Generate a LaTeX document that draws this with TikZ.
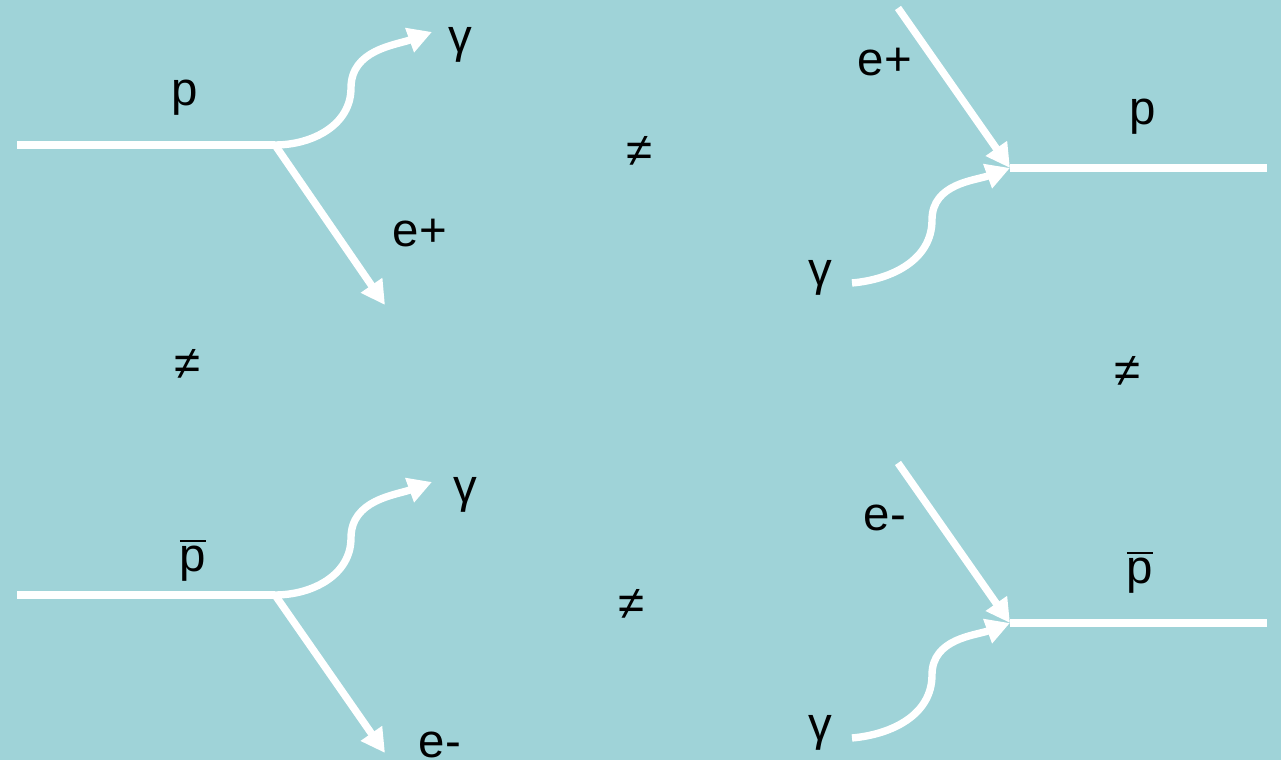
\documentclass[tikz,border=0pt]{standalone}
\usepackage{fontspec}
\setmainfont{Liberation Sans}
\usetikzlibrary{arrows.meta}
\definecolor{bgteal}{HTML}{9FD3D8}

\begin{document}
\begin{tikzpicture}[
		line/.style={white, line width=2.1pt},
		arr/.style={line, -{Triangle[length=6.8pt,width=7pt]}},
		lbl/.style={font=\fontsize{13.5}{16}\selectfont, inner sep=0pt}
	]
			
			% Background
			\fill[bgteal] (0,0) rectangle (12.81,7.6);
			\useasboundingbox (0,0) rectangle (12.81,7.6);
			
			% TOP LEFT: p -> gamma + e+
			\coordinate (tlin) at (0.17,6.15);
			\coordinate (tlv) at (2.75,6.15);
			\coordinate (tlw) at (3.51,6.72);
			\coordinate (tlg) at (4.32,7.28);
			\coordinate (tle) at (3.85,4.55);
			\draw[line] (tlin) -- (tlv);
			\draw[arr] (tlv) to[out=0,in=-90] (tlw) to[out=90,in=200] (tlg);
			\draw[arr] (tlv) -- (tle);
			\node[lbl] (tlp) at (1.85,6.62) {p};
			\node[lbl] (tlgam) at (4.60,7.15) {γ};
			\node[lbl] (tlpos) at (4.20,5.27) {e+};
			
			% BOTTOM LEFT: anti-p -> gamma + e-
			\coordinate (blin) at (0.17,1.65);
			\coordinate (blv) at (2.75,1.65);
			\coordinate (blw) at (3.51,2.22);
			\coordinate (blg) at (4.32,2.78);
			\coordinate (ble) at (3.85,0.07);
			\draw[line] (blin) -- (blv);
			\draw[arr] (blv) to[out=0,in=-90] (blw) to[out=90,in=200] (blg);
			\draw[arr] (blv) -- (ble);
			\node[lbl] (blp) at (1.93,2.0) {$\overline{\mbox{p}}$};
			\node[lbl] (blgam) at (4.65,2.65) {γ};
			\node[lbl] (blel) at (4.40,0.15) {e-};
			
			% TOP RIGHT: e+ + gamma -> p
			\coordinate (tre) at (8.98,7.52);
			\coordinate (trv) at (10.10,5.92);
			\coordinate (trout) at (12.67,5.92);
			\coordinate (trg) at (8.52,4.77);
			\coordinate (trw) at (9.32,5.40);
			\draw[arr] (tre) -- (trv);
			\draw[arr] (trg) to[out=5,in=-90] (trw) to[out=90,in=200] (trv);
			\draw[line] (trv) -- (trout);
			\node[lbl] (trpos) at (8.85,6.98) {e+};
			\node[lbl] (trp) at (11.43,6.43) {p};
			\node[lbl] (trgam) at (8.20,4.82) {γ};
			
			% BOTTOM RIGHT: e- + gamma -> anti-p
			\coordinate (bre) at (8.98,2.97);
			\coordinate (brv) at (10.10,1.37);
			\coordinate (brout) at (12.67,1.37);
			\coordinate (brg) at (8.52,0.22);
			\coordinate (brw) at (9.32,0.85);
			\draw[arr] (bre) -- (brv);
			\draw[arr] (brg) to[out=5,in=-90] (brw) to[out=90,in=200] (brv);
			\draw[line] (brv) -- (brout);
			\node[lbl] (brel) at (8.85,2.42) {e-};
			\node[lbl] (brp) at (11.40,1.88) {$\overline{\mbox{p}}$};
			\node[lbl] (brgam) at (8.20,0.27) {γ};
			
			% Not-equal signs
			\node[lbl] (ne1) at (6.40,6.08) {≠};
			\node[lbl] (ne2) at (1.88,3.95) {≠};
			\node[lbl] (ne3) at (11.28,3.88) {≠};
			\node[lbl] (ne4) at (6.32,1.55) {≠};
			
		\end{tikzpicture}
\end{document}
